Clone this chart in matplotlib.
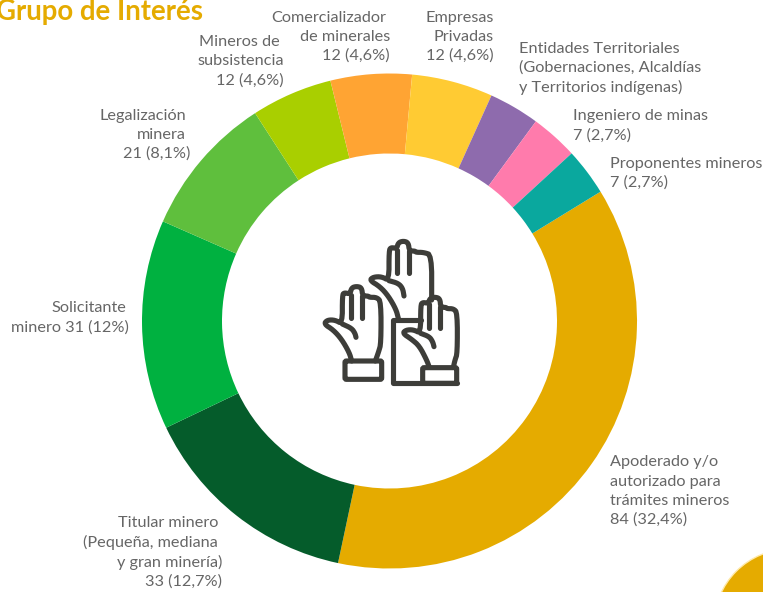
import matplotlib

matplotlib.use("Agg")

import matplotlib.pyplot as plt
from matplotlib.patches import Circle, FancyBboxPatch

W, H = 763, 592

plt.rcParams["font.family"] = ["Lato", "DejaVu Sans"]

# clockwise from the top right slice
grupos = [
    "Apoderado", "Titular", "Solicitante", "Legalizacion", "Subsistencia",
    "Comercializador", "Empresas", "Entidades", "Ingeniero", "Proponentes",
]
# Entidades has no printed number
valores = [84, 33, 31, 21, 12, 12, 12, 7.5, 7, 7]
colores = [
    "#E5AB00", "#055C2B", "#00B140", "#5FBF3D", "#A9CF00",
    "#FFA433", "#FFCB33", "#8E6BAD", "#FF7BAC", "#0AA89E",
]

# text line, anchor x, centre y, alignment
etiquetas = [
    ("Comercializador", 329, 18, "center"),
    ("de minerales", 390, 37, "right"),
    ("12 (4,6%)", 390, 56, "right"),
    ("Mineros de", 280, 42, "right"),
    ("subsistencia", 284, 61, "right"),
    ("12 (4,6%)", 284, 81, "right"),
    ("Empresas", 494, 18, "right"),
    ("Privadas", 494, 37, "right"),
    ("12 (4,6%)", 494, 56, "right"),
    ("Entidades Territoriales", 519, 49, "left"),
    ("(Gobernaciones, Alcaldías", 519, 68, "left"),
    ("y Territorios indígenas)", 519, 87, "left"),
    ("Ingeniero de minas", 573, 116, "left"),
    ("7 (2,7%)", 573, 136, "left"),
    ("Proponentes mineros", 610, 164, "left"),
    ("7 (2,7%)", 610, 183, "left"),
    ("Legalización", 186, 116, "right"),
    ("minera", 186, 135, "right"),
    ("21 (8,1%)", 190, 154, "right"),
    ("Solicitante", 126, 308, "right"),
    ("minero 31 (12%)", 129, 328, "right"),
    ("Titular minero", 218, 523, "right"),
    ("(Pequeña, mediana", 218, 542, "right"),
    ("y gran minería)", 222, 562, "right"),
    ("33 (12,7%)", 222, 582, "right"),
    ("Apoderado y/o", 610, 462, "left"),
    ("autorizado para", 610, 482, "left"),
    ("trámites mineros", 610, 501, "left"),
    ("84 (32,4%)", 610, 520, "left"),
]

fig = plt.figure(figsize=(W / 100, H / 100), dpi=100)
fig.patch.set_facecolor("white")
ax = fig.add_axes([0, 0, 1, 1])

ax.pie(
    valores,
    colors=colores,
    startangle=31.5,
    counterclock=False,
    center=(389.5, H - 321),
    radius=247.5,
    wedgeprops={"width": 80, "linewidth": 0},
    frame=True,
)
ax.set_xlim(0, W)
ax.set_ylim(0, H)
ax.set_aspect("auto")
ax.axis("off")

for texto, x, y, alin in etiquetas:
    ax.text(x, H - y, texto, ha=alin, va="center", fontsize=11.7, color="#666666")

ax.text(-4, H - 12, "Grupo de Interés", ha="left", va="center", fontsize=19.9,
        fontweight="bold", color="#E5AB00")

# corner of the next page decoration
ax.add_patch(Circle((790, H - 625), 76, facecolor="#E5AB00", edgecolor="#FFE9A8", linewidth=1))

# hands icon, traced in zoomed crop coordinates
TINTA = "#3D3D39"
GROSOR = 3.7


def zx(x):
    return 300 + x / 3


def zy(y):
    return H - (220 + y / 3)


def suave(puntos, veces=2):
    for _ in range(veces):
        nuevo = [puntos[0]]
        for a, b in zip(puntos[:-1], puntos[1:]):
            nuevo.append((0.75 * a[0] + 0.25 * b[0], 0.75 * a[1] + 0.25 * b[1]))
            nuevo.append((0.25 * a[0] + 0.75 * b[0], 0.25 * a[1] + 0.75 * b[1]))
        nuevo.append(puntos[-1])
        puntos = nuevo
    return puntos


def trazo(puntos, redondo=True):
    if redondo:
        puntos = suave(puntos)
    xs = [zx(p[0]) for p in puntos]
    ys = [zy(p[1]) for p in puntos]
    ax.plot(xs, ys, color=TINTA, lw=GROSOR, solid_capstyle="round", solid_joinstyle="round")


def puno(x0, y0, x1, y1):
    ax.add_patch(FancyBboxPatch((zx(x0), zy(y1)), (x1 - x0) / 3, (y1 - y0) / 3,
                                boxstyle="round,pad=0,rounding_size=1.5",
                                facecolor="none", edgecolor=TINTA, linewidth=GROSOR))


# left hand
trazo([
    (155, 423), (148, 398), (125, 358), (100, 330), (72, 312), (82, 300), (105, 300), (127, 312),
    (127, 225), (133, 218), (150, 222), (155, 203), (170, 199), (185, 203), (188, 228),
    (205, 228), (208, 232), (230, 232), (243, 245), (243, 370), (236, 395), (226, 423),
])
trazo([(152, 224), (152, 295)], False)
trazo([(187, 228), (187, 295)], False)
trazo([(127, 312), (155, 325), (165, 340), (168, 352)])
puno(135, 423, 245, 478)

# middle hand, its lower part runs into the box
trazo([
    (295, 295), (288, 268), (265, 228), (240, 200), (209, 181), (220, 171), (245, 170), (267, 182),
    (267, 92), (273, 82), (290, 86), (295, 68), (310, 63), (325, 68), (328, 93),
    (345, 93), (348, 97), (370, 97), (395, 105), (395, 240),
])
trazo([(292, 89), (292, 160)], False)
trazo([(327, 93), (327, 160)], False)
trazo([(267, 182), (295, 190), (308, 205), (312, 228)])

# right hand
trazo([
    (388, 442), (380, 420), (358, 378), (335, 358), (308, 340), (318, 330), (340, 329), (362, 340),
    (362, 255), (368, 247), (385, 250), (390, 235), (405, 231), (420, 236), (422, 262),
    (438, 262), (441, 266), (460, 266), (472, 278), (472, 400), (465, 420), (460, 442),
])
trazo([(387, 252), (387, 325)], False)
trazo([(421, 262), (421, 325)], False)
trazo([(362, 340), (388, 350), (398, 365), (402, 380)])

# box behind the hands
trazo([(362, 300), (278, 300), (278, 490), (470, 490)], False)
puno(368, 443, 470, 490)

fig.savefig("out.png", dpi=100)
